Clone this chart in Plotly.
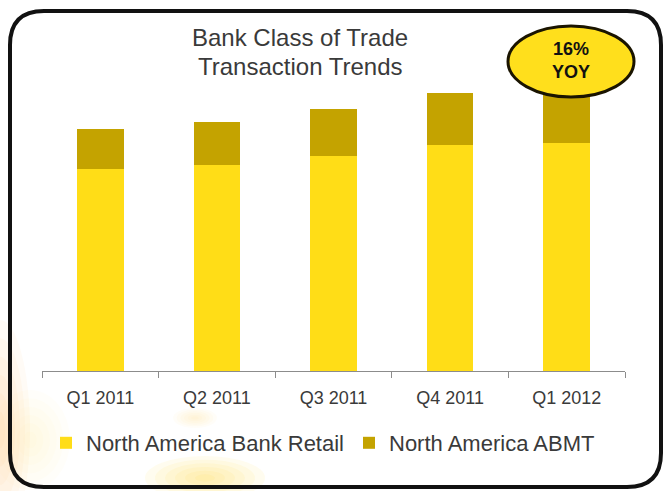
import plotly.graph_objects as go

# Quarterly transaction volumes (relative units)
quarters = ["Q1 2011", "Q2 2011", "Q3 2011", "Q4 2011", "Q1 2012"]
bank_retail = [202, 206, 215, 226, 228]
abmt = [40, 43, 47, 52, 53]
yoy_label = "16%<br>YOY"

W, H = 665, 491
L, R, T, B = 42, 40, 60, 120
PW, PH = W - L - R, H - T - B


def px(x):
    return (x - L) / PW


def py(y):
    return (H - B - y) / PH


def rounded_rect(x0, y0, x1, y1, r):
    p = [
        f"M{px(x0 + r)},{py(y0)}",
        f"L{px(x1 - r)},{py(y0)}",
        f"Q{px(x1)},{py(y0)} {px(x1)},{py(y0 + r)}",
        f"L{px(x1)},{py(y1 - r)}",
        f"Q{px(x1)},{py(y1)} {px(x1 - r)},{py(y1)}",
        f"L{px(x0 + r)},{py(y1)}",
        f"Q{px(x0)},{py(y1)} {px(x0)},{py(y1 - r)}",
        f"L{px(x0)},{py(y0 + r)}",
        f"Q{px(x0)},{py(y0)} {px(x0 + r)},{py(y0)}",
        "Z",
    ]
    return " ".join(p)


fig = go.Figure()
fig.add_trace(go.Bar(
    x=quarters, y=bank_retail, name="North America Bank Retail",
    marker=dict(color="#FFDD17", line=dict(width=0)),
))
fig.add_trace(go.Bar(
    x=quarters, y=abmt, name="North America ABMT",
    marker=dict(color="#C4A300", line=dict(width=0)),
))

shapes = []


def soft_glow(cx, cy, rx, ry, color, steps=6, op=0.06):
    # concentric translucent ellipses fake a blurred spot
    for i in range(steps):
        k = 1 - i / steps
        shapes.append(dict(
            type="circle", xref="paper", yref="paper",
            x0=px(cx - rx * k), x1=px(cx + rx * k),
            y0=py(cy + ry * k), y1=py(cy - ry * k),
            fillcolor=color, opacity=op, line=dict(width=0), layer="below",
        ))


soft_glow(0, 430, 30, 110, "#FFB347", op=0.05)
soft_glow(30, 440, 40, 50, "#FFE27A", op=0.04)
soft_glow(205, 478, 60, 22, "#FFD21F", op=0.07)
soft_glow(195, 418, 22, 10, "#FFE07A", op=0.05)

# rounded frame
shapes.append(dict(
    type="path", xref="paper", yref="paper",
    path=rounded_rect(10, 11, 661, 487, 34),
    line=dict(color="#111111", width=4), fillcolor="rgba(0,0,0,0)",
    layer="above",
))
# YOY badge
shapes.append(dict(
    type="circle", xref="paper", yref="paper",
    x0=px(508), x1=px(634), y0=py(97), y1=py(26),
    fillcolor="#FFDF1C", line=dict(color="#1A1400", width=3), layer="above",
))

annotations = [
    dict(text="Bank Class of Trade", x=px(300), y=py(37), xref="paper", yref="paper",
         showarrow=False, xanchor="center", yanchor="middle",
         font=dict(family="Liberation Sans, Arial", size=24, color="#3A3A3A")),
    dict(text="Transaction Trends", x=px(300), y=py(66), xref="paper", yref="paper",
         showarrow=False, xanchor="center", yanchor="middle",
         font=dict(family="Liberation Sans, Arial", size=24, color="#3A3A3A")),
    dict(text="<b>" + yoy_label + "</b>", x=px(571), y=py(61), xref="paper", yref="paper",
         showarrow=False, xanchor="center", yanchor="middle",
         font=dict(family="Liberation Sans, Arial", size=18, color="#111111")),
]

fig.update_layout(
    width=W, height=H,
    margin=dict(l=L, r=R, t=T, b=B, pad=0),
    paper_bgcolor="white", plot_bgcolor="rgba(0,0,0,0)",
    barmode="stack", bargap=0.6,
    showlegend=True,
    legend=dict(
        orientation="h", x=px(46), y=py(422), xanchor="left", yanchor="top",
        font=dict(family="Liberation Sans, Arial", size=22, color="#3A3A3A"),
        bgcolor="rgba(0,0,0,0)", traceorder="normal",
        itemwidth=30,
    ),
    xaxis=dict(
        range=[-0.5, 4.5], showline=True, linecolor="#8C8C8C", linewidth=1,
        ticks="outside", tickson="boundaries", ticklen=6, tickcolor="#8C8C8C",
        ticklabelstandoff=10,
        tickfont=dict(family="Liberation Sans, Arial", size=18, color="#3A3A3A"),
        showgrid=False, zeroline=False, fixedrange=True,
    ),
    yaxis=dict(
        range=[0, PH], visible=False, showgrid=False, zeroline=False,
    ),
    shapes=shapes,
    annotations=annotations,
)

fig.write_html("out.html")
